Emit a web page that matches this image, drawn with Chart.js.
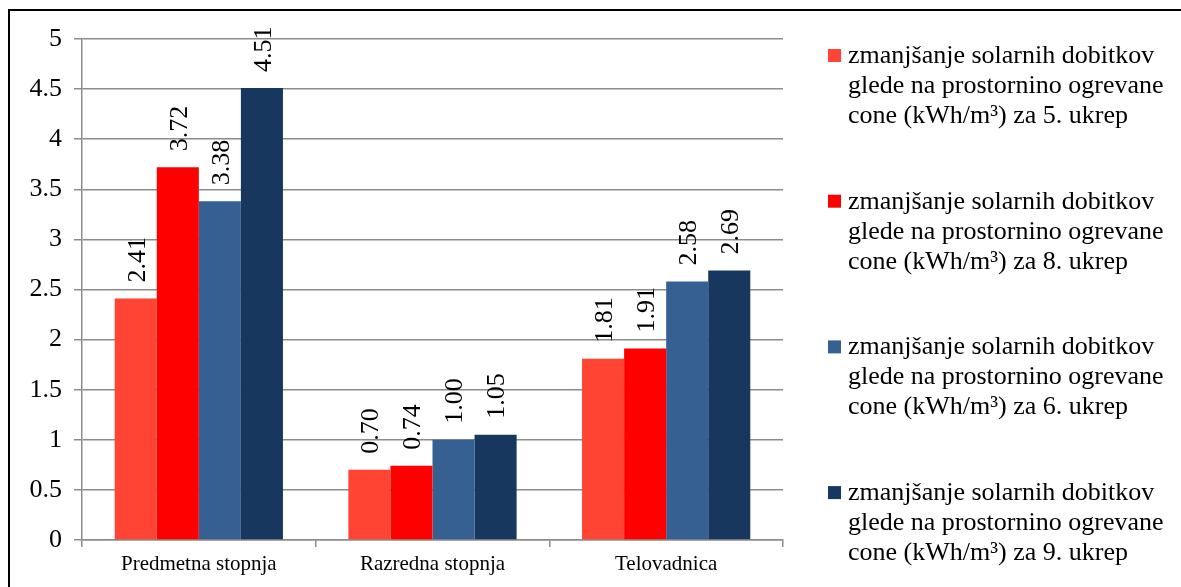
<!DOCTYPE html>
<html>
<head>
<meta charset="utf-8">
<script src="https://cdn.jsdelivr.net/npm/chart.js@4/dist/chart.umd.min.js"></script>
<style>
  html, body { margin: 0; padding: 0; background: #ffffff; }
  #wrap { width: 1181px; height: 587px; position: relative; }
</style>
</head>
<body>
<div id="wrap"><canvas id="chart" width="1181" height="587"></canvas></div>
<script>
// Categories along the x axis
const categories = ['Predmetna stopnja', 'Razredna stopnja', 'Telovadnica'];

// Reduction of solar gains per heated volume (kWh/m³) for each measure
const ukrep5 = [2.41, 0.70, 1.81];
const ukrep8 = [3.72, 0.74, 1.91];
const ukrep6 = [3.38, 1.00, 2.58];
const ukrep9 = [4.51, 1.05, 2.69];

// Series names, split into the lines shown in the legend
const name5 = ['zmanjšanje solarnih dobitkov', 'glede na prostornino ogrevane', 'cone (kWh/m³) za 5. ukrep'];
const name8 = ['zmanjšanje solarnih dobitkov', 'glede na prostornino ogrevane', 'cone (kWh/m³) za 8. ukrep'];
const name6 = ['zmanjšanje solarnih dobitkov', 'glede na prostornino ogrevane', 'cone (kWh/m³) za 6. ukrep'];
const name9 = ['zmanjšanje solarnih dobitkov', 'glede na prostornino ogrevane', 'cone (kWh/m³) za 9. ukrep'];

// Value axis range
const yMin = 0;
const yMax = 5;
const yStep = 0.5;

const FONT = "'Liberation Serif', 'Times New Roman', serif";
const GRID = '#8c8c8c';

const series = [
  { lines: name5, data: ukrep5, color: '#FF4433' },
  { lines: name8, data: ukrep8, color: '#FF0000' },
  { lines: name6, data: ukrep6, color: '#376092' },
  { lines: name9, data: ukrep9, color: '#18375E' }
];

// White page plus the frame around the whole chart
const framePlugin = {
  id: 'frame',
  beforeDraw(chart) {
    const ctx = chart.ctx;
    ctx.save();
    ctx.fillStyle = '#ffffff';
    ctx.fillRect(0, 0, chart.width, chart.height);
    ctx.restore();
  },
  afterDraw(chart) {
    const ctx = chart.ctx;
    ctx.save();
    ctx.strokeStyle = '#000000';
    ctx.lineWidth = 2;
    ctx.strokeRect(9, 10, chart.width + 40, chart.height + 40);
    ctx.restore();
  }
};

// Rotated value labels above each bar
const valueLabels = {
  id: 'valueLabels',
  afterDatasetsDraw(chart) {
    const ctx = chart.ctx;
    const size = 26;
    ctx.save();
    ctx.fillStyle = '#000000';
    ctx.font = size + 'px ' + FONT;
    ctx.textAlign = 'left';
    ctx.textBaseline = 'alphabetic';
    chart.data.datasets.forEach((ds, i) => {
      chart.getDatasetMeta(i).data.forEach((bar, j) => {
        const v = ds.data[j];
        ctx.save();
        ctx.translate(bar.x + size * 0.34, bar.y - 16);
        ctx.rotate(-Math.PI / 2);
        ctx.fillText(v.toFixed(2), 0, 0);
        ctx.restore();
      });
    });
    ctx.restore();
  }
};

// Legend on the right with multi-line entries
const sideLegend = {
  id: 'sideLegend',
  afterDraw(chart) {
    const ctx = chart.ctx;
    const x0 = 828, textX = 848;
    const firstBase = 63, itemGap = 145.7, lineGap = 30;
    ctx.save();
    ctx.font = '26px ' + FONT;
    ctx.textAlign = 'left';
    ctx.textBaseline = 'alphabetic';
    chart.data.datasets.forEach((ds, i) => {
      const base = firstBase + i * itemGap;
      ctx.fillStyle = ds.backgroundColor;
      ctx.fillRect(x0, base - 14, 13, 13);
      ctx.fillStyle = '#000000';
      ds.legendLines.forEach((line, k) => {
        ctx.fillText(line, textX, base + k * lineGap);
      });
    });
    ctx.restore();
  }
};

new Chart(document.getElementById('chart'), {
  type: 'bar',
  data: {
    labels: categories,
    datasets: series.map(s => ({
      label: s.lines.join(' '),
      legendLines: s.lines,
      data: s.data,
      backgroundColor: s.color,
      borderWidth: 0,
      categoryPercentage: 0.72,
      barPercentage: 1.0
    }))
  },
  options: {
    responsive: false,
    devicePixelRatio: 1,
    animation: false,
    layout: { padding: { left: 0, top: 39, right: 398, bottom: 0 } },
    plugins: {
      legend: { display: false },
      tooltip: { enabled: false },
      title: { display: false }
    },
    scales: {
      x: {
        offset: true,
        grid: {
          offset: true,
          drawOnChartArea: false,
          drawTicks: true,
          tickLength: 7,
          color: GRID,
          lineWidth: 1.5
        },
        border: { display: true, color: GRID, width: 1.5 },
        ticks: {
          color: '#000000',
          font: { family: FONT, size: 21 },
          padding: 5,
          maxRotation: 0,
          autoSkip: false
        },
        afterFit(scale) { scale.height = 47; }
      },
      y: {
        min: yMin,
        max: yMax,
        grid: {
          color: GRID,
          lineWidth: 1.5,
          tickLength: 8,
          drawTicks: true
        },
        border: { display: true, color: GRID, width: 1.5 },
        ticks: {
          stepSize: yStep,
          color: '#000000',
          font: { family: FONT, size: 26 },
          padding: 12,
          callback: (value) => String(Number(Number(value).toFixed(1)))
        },
        afterFit(scale) { scale.width = 82; }
      }
    }
  },
  plugins: [framePlugin, valueLabels, sideLegend]
});
</script>
</body>
</html>
